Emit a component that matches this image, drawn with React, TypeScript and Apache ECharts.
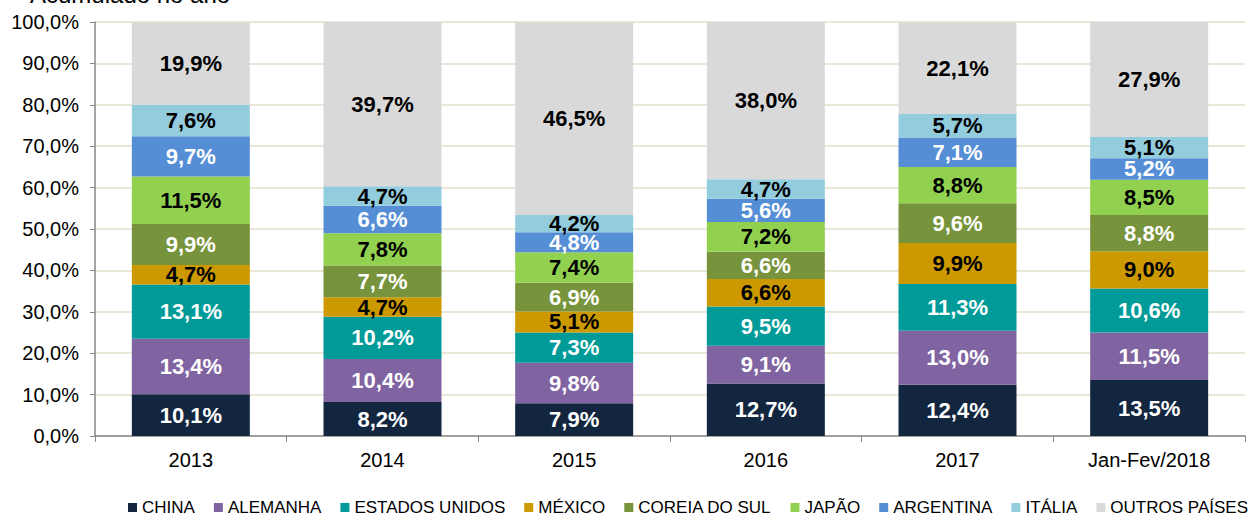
import React, { useEffect, useRef } from "react";
import * as echarts from "echarts";

const categories = ["2013", "2014", "2015", "2016", "2017", "Jan-Fev/2018"];
const yTicks = [0, 10, 20, 30, 40, 50, 60, 70, 80, 90, 100];

const china = [10.1, 8.2, 7.9, 12.7, 12.4, 13.5];
const alemanha = [13.4, 10.4, 9.8, 9.1, 13.0, 11.5];
const estadosUnidos = [13.1, 10.2, 7.3, 9.5, 11.3, 10.6];
const mexico = [4.7, 4.7, 5.1, 6.6, 9.9, 9.0];
const coreia = [9.9, 7.7, 6.9, 6.6, 9.6, 8.8];
const japao = [11.5, 7.8, 7.4, 7.2, 8.8, 8.5];
const argentina = [9.7, 6.6, 4.8, 5.6, 7.1, 5.2];
const italia = [7.6, 4.7, 4.2, 4.7, 5.7, 5.1];
const outros = [19.9, 39.7, 46.5, 38.0, 22.1, 27.9];

const seriesDefs = [
  { name: "CHINA", data: china, color: "#12263f", label: "#ffffff" },
  { name: "ALEMANHA", data: alemanha, color: "#8064a2", label: "#ffffff" },
  { name: "ESTADOS UNIDOS", data: estadosUnidos, color: "#009b98", label: "#ffffff" },
  { name: "MÉXICO", data: mexico, color: "#cc9900", label: "#000000" },
  { name: "COREIA DO SUL", data: coreia, color: "#77933c", label: "#ffffff" },
  { name: "JAPÃO", data: japao, color: "#92d050", label: "#000000" },
  { name: "ARGENTINA", data: argentina, color: "#558ed5", label: "#ffffff" },
  { name: "ITÁLIA", data: italia, color: "#93cddd", label: "#000000" },
  { name: "OUTROS PAÍSES", data: outros, color: "#d9d9d9", label: "#000000" },
];

const fmt = (v: number) => v.toFixed(1).replace(".", ",") + "%";
const FONT = "'Liberation Sans', Arial, sans-serif";

export default function App() {
  const ref = useRef<HTMLDivElement>(null);
  useEffect(() => {
    if (!ref.current) return;
    const chart = echarts.init(ref.current, undefined, { renderer: "svg" });
    chart.setOption({
      animation: false,
      textStyle: { fontFamily: FONT },
      graphic: [
        {
          type: "text",
          left: 30,
          top: -18,
          style: {
            text: "Acumulado no ano",
            font: "24px " + FONT,
            fill: "#000",
          },
        },
      ],
      grid: { left: 95, right: 13, top: 22, bottom: 80, containLabel: false },
      legend: {
        left: 123,
        top: 494,
        icon: "rect",
        itemWidth: 9,
        itemHeight: 9,
        itemGap: 19,
        textStyle: { fontSize: 17, color: "#000", fontFamily: FONT },
        data: seriesDefs.map((s) => s.name),
      },
      xAxis: {
        type: "category",
        data: categories,
        axisLine: { lineStyle: { color: "#888888", width: 1.5 } },
        axisTick: { show: true, length: 6, lineStyle: { color: "#888888" } },
        axisLabel: { fontSize: 20, color: "#000", margin: 14 },
      },
      yAxis: {
        type: "value",
        min: yTicks[0],
        max: yTicks[yTicks.length - 1],
        interval: 10,
        axisLine: { show: true, lineStyle: { color: "#888888", width: 1.5 } },
        axisTick: { show: true, length: 5, lineStyle: { color: "#888888" } },
        axisLabel: {
          fontSize: 20,
          color: "#000",
          margin: 16,
          formatter: (v: number) => fmt(v),
        },
        splitLine: { show: true, lineStyle: { color: "#e3dfcb", width: 1.5 } },
      },
      series: seriesDefs.map((s) => ({
        name: s.name,
        type: "bar",
        stack: "total",
        barWidth: 118,
        data: s.data,
        itemStyle: { color: s.color },
        label: {
          show: true,
          position: "inside",
          color: s.label,
          fontSize: 22,
          fontWeight: "bold",
          fontFamily: FONT,
          formatter: (p: any) => fmt(p.value),
        },
      })),
    });
    return () => chart.dispose();
  }, []);
  return (
    <div
      ref={ref}
      style={{ position: "fixed", left: 0, top: 0, width: 1258, height: 516, background: "#fff" }}
    />
  );
}
